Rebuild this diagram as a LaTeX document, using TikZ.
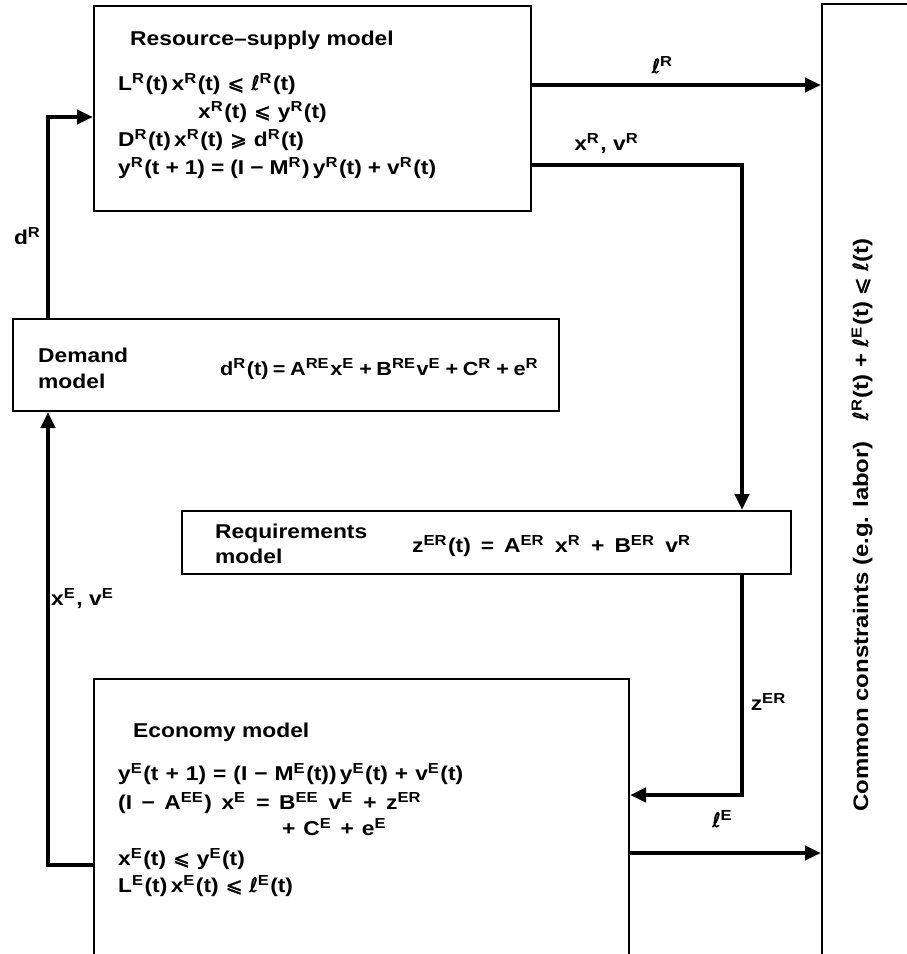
\documentclass[tikz,border=0pt]{standalone}
\usepackage{fontspec}
\setmainfont[FakeStretch=1.14,UprightFont={* Bold}]{Liberation Sans}
\newfontfamily\symf[FakeBold=1.6]{DejaVu Sans}
\usetikzlibrary{arrows.meta,calc}
\newcommand\su[1]{\raisebox{6.5pt}{\fontsize{14.5}{14}\selectfont #1}\hspace{1.5pt}}
\newcommand\leqs{{\symf ⩽}}
\newcommand\geqs{{\symf ⩾}}
\newcommand\lsym{{\symf ℓ}}
\newcommand\wsp[1]{\spaceskip=#1pt\relax}
\begin{document}
\begin{tikzpicture}[x=1pt,y=-1pt,
  box/.style={draw, line width=2pt, inner sep=0pt, anchor=north west},
  arr/.style={line width=4pt, -{Triangle[length=16pt,width=14pt]}},
  txt/.style={anchor=base west, inner sep=0pt, font=\fontsize{20}{24}\selectfont},
  lab/.style={anchor=base, inner sep=0pt, font=\fontsize{20}{24}\selectfont}]
\useasboundingbox (0,0) rectangle (907,954);
\clip (0,0) rectangle (907,954);
% boxes
\node[box, minimum width=437pt, minimum height=205pt] (res) at (93,5) {};
\node[box, minimum width=546pt, minimum height=92pt] (dem) at (12,318) {};
\node[box, minimum width=609pt, minimum height=63pt] (req) at (181,510) {};
\node[box, minimum width=535pt, minimum height=330pt] (eco) at (93,678) {};
\node[box, minimum width=150pt, minimum height=1000pt] (con) at (821,3) {};
% helper coordinates
\coordinate (lRy) at (0,85);
\coordinate (xRy) at (0,165);
\coordinate (xRx) at (742,0);
\coordinate (dRx) at (48,0);
\coordinate (dRy) at (0,117);
\coordinate (xEy) at (0,865);
\coordinate (zy) at (0,795);
\coordinate (lEy) at (0,853);
% connectors
\draw[arr] (res.east |- lRy) -- (con.west |- lRy);
\draw[arr] (res.east |- xRy) -| (req.north -| xRx);
\draw[arr] (dem.north -| dRx) |- (res.west |- dRy);
\draw[arr] (eco.west |- xEy) -| (dem.south -| dRx);
\draw[arr] (req.south -| xRx) |- (eco.east |- zy);
\draw[arr] (eco.east |- lEy) -- (con.west |- lEy);
% connector labels
\node[lab] (lRl) at (662,73) {\lsym\su{R}};
\node[lab] (xRl) at (606,150) {x\su{R}, v\su{R}};
\node[lab] (dRl) at (27,244) {d\su{R}};
\node[lab] (xEl) at (82,605) {x\su{E}, v\su{E}};
\node[lab] (zl) at (768,710) {z\su{ER}};
\node[lab] (lEl) at (722,827) {\lsym\su{E}};
% resource-supply text
\node[txt] (rt) at (130,45) {Resource–supply model};
\node[txt] (r1) at (118,90) {\wsp{7}L\su{R}(t)\,x\su{R}(t) \leqs\ \lsym\su{R}(t)};
\node[txt] (r2) at (198,118) {\wsp{7}x\su{R}(t) \leqs\ y\su{R}(t)};
\node[txt] (r3) at (118,146) {\wsp{7}D\su{R}(t)\,x\su{R}(t) \geqs\ d\su{R}(t)};
\node[txt] (r4) at (118,174) {\wsp{6}y\su{R}(t + 1) = (I − M\su{R})\,y\su{R}(t) + v\su{R}(t)};
% demand text
\node[txt] (dt1) at (38,362) {Demand};
\node[txt] (dt2) at (38,388) {model};
\node[txt, font=\fontsize{19}{24}\selectfont] (de) at (220,375) {\wsp{4.5}d\su{R}(t) = A\su{RE}x\su{E} + B\su{RE}v\su{E} + C\su{R} + e\su{R}};
% requirements text
\node[txt] (qt1) at (215,538) {Requirements};
\node[txt] (qt2) at (215,563) {model};
\node[txt] (qe) at (412,552) {\wsp{10}z\su{ER}(t) = A\su{ER} x\su{R} + B\su{ER} v\su{R}};
% economy text
\node[txt] (et) at (133,737) {Economy model};
\node[txt] (e1) at (118,780) {\wsp{7}y\su{E}(t + 1) = (I − M\su{E}(t))\,y\su{E}(t) + v\su{E}(t)};
\node[txt] (e2) at (118,809) {\wsp{9.5}(I − A\su{EE}) x\su{E} = B\su{EE} v\su{E} + z\su{ER}};
\node[txt] (e3) at (282,835) {\wsp{8}+ C\su{E} + e\su{E}};
\node[txt] (e4) at (118,865) {\wsp{7}x\su{E}(t) \leqs\ y\su{E}(t)};
\node[txt] (e5) at (118,892) {\wsp{7}L\su{E}(t)\,x\su{E}(t) \leqs\ \lsym\su{E}(t)};
% constraints text
\node[rotate=90, inner sep=0pt, font=\fontsize{21}{24}\selectfont] (ct) at (862,525)
  {Common constraints (e.g. labor)\quad\lsym\su{R}(t) + \lsym\su{E}(t) \leqs\ \lsym(t)};
\end{tikzpicture}
\end{document}
